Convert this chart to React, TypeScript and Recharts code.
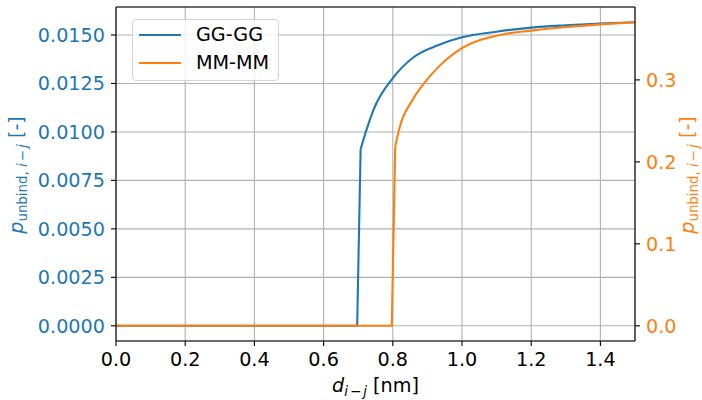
import { LineChart, Line, XAxis, YAxis, CartesianGrid, Legend, ReferenceLine } from 'recharts';

// GG-GG (left axis)
const ggX = [0, 0.697, 0.707, 0.722, 0.744, 0.8, 0.86, 0.932, 1.0, 1.1, 1.2, 1.3, 1.4, 1.5];
const ggP = [0, 0, 0.00911, 0.01, 0.01113, 0.01277, 0.01385, 0.01448, 0.01488, 0.01517, 0.01538, 0.0155, 0.01559, 0.01566];
// MM-MM (right axis)
const mmX = [0, 0.797, 0.807, 0.816, 0.86, 0.889, 0.932, 1.0, 1.11, 1.2, 1.3, 1.4, 1.5];
const mmP = [0, 0, 0.2185, 0.2357, 0.2777, 0.2951, 0.3159, 0.3387, 0.3549, 0.3601, 0.3645, 0.3678, 0.3704];

const xTicks = [0, 0.2, 0.4, 0.6, 0.8, 1.0, 1.2, 1.4];
const leftTicks = [0, 0.0025, 0.005, 0.0075, 0.01, 0.0125, 0.015];
const rightTicks = [0, 0.1, 0.2, 0.3];

const ggData = ggX.map((x, i) => ({ x, y: ggP[i] }));
const mmData = mmX.map((x, i) => ({ x, y: mmP[i] }));
// step part (straight) and the smooth part after the jump
const ggStep = ggData.slice(0, 3);
const ggCurve = ggData.slice(2);
const mmStep = mmData.slice(0, 3);
const mmCurve = mmData.slice(2);

const BLUE = '#1f77b4';
const ORANGE = '#ff7f0e';
const FONT = 'DejaVu Sans';
const FS = 19.2;
const SUB = 13.4;
const LEFT_DOMAIN: [number, number] = [-0.000783, 0.016443];
const RIGHT_DOMAIN: [number, number] = [-0.01852, 0.38894];

const PLabel = (props: any) => {
  const { viewBox, color, dx } = props;
  const cx = viewBox.x + dx;
  const cy = viewBox.y + viewBox.height / 2 + 1;
  return (
    <text x={cx} y={cy} fill={color} textAnchor="middle" fontFamily={FONT} fontSize={FS}
      transform={`rotate(-90, ${cx}, ${cy})`}>
      <tspan fontStyle="italic">p</tspan>
      <tspan fontSize={SUB} dy={4}>unbind, </tspan>
      <tspan fontSize={SUB} fontStyle="italic">i</tspan>
      <tspan fontSize={SUB} dx={2}>−</tspan>
      <tspan fontSize={SUB} dx={2} fontStyle="italic">j</tspan>
      <tspan dy={-4}> [-]</tspan>
    </text>
  );
};

const DLabel = (props: any) => {
  const { viewBox } = props;
  const cx = viewBox.x + viewBox.width / 2;
  const cy = viewBox.y + 51;
  return (
    <text x={cx} y={cy} fill="#000" textAnchor="middle" fontFamily={FONT} fontSize={FS}>
      <tspan fontStyle="italic">d</tspan>
      <tspan fontSize={SUB} dy={4} fontStyle="italic">i</tspan>
      <tspan fontSize={SUB} dx={2}>−</tspan>
      <tspan fontSize={SUB} dx={2} fontStyle="italic">j</tspan>
      <tspan dy={-4}> [nm]</tspan>
    </text>
  );
};

const LegendBox = (props: any) => {
  const items = (props.payload || []).filter((it: any) => it.type !== 'none');
  return (
    <div style={{
      width: 147, height: 62, boxSizing: 'border-box', border: '1px solid #d4d4d4', borderRadius: 4,
      background: 'rgba(255,255,255,0.8)', position: 'relative', fontFamily: FONT, fontSize: FS,
    }}>
      {items.map((it: any, i: number) => (
        <div key={i} style={{ position: 'absolute', left: 0, top: 14.5 + i * 28.5, width: '100%' }}>
          <div style={{ position: 'absolute', left: 6, top: -1, width: 42, height: 2.1, background: it.color }} />
          <div style={{ position: 'absolute', left: 63, top: -12, lineHeight: '24px', color: '#000' }}>{it.value}</div>
        </div>
      ))}
    </div>
  );
};

export default function App() {
  const tickStyle = { fontSize: FS, fontFamily: FONT };
  return (
    <div style={{ width: 702, height: 400 }}>
      <style>{'body{margin:0}'}</style>
      <LineChart width={702} height={400} margin={{ top: 7, right: 0, bottom: 0, left: 0 }} style={{ fontFamily: FONT }}>
        <CartesianGrid xAxisId="b" yAxisId="left" stroke="#b0b0b0" strokeWidth={1.1} />
        <XAxis xAxisId="b" dataKey="x" type="number" domain={[0, 1.5]} allowDataOverflow ticks={xTicks}
          tickFormatter={(v: number) => v.toFixed(1)} height={59} tickSize={5} tickMargin={6}
          tick={{ ...tickStyle, fill: '#000' }} stroke="#000" strokeWidth={1.1}
          label={<DLabel />} />
        <YAxis yAxisId="left" type="number" domain={LEFT_DOMAIN} allowDataOverflow ticks={leftTicks}
          tickFormatter={(v: number) => v.toFixed(4)} width={116} tickSize={5} tickMargin={6}
          tick={{ ...tickStyle, fill: BLUE }} stroke="#000" strokeWidth={1.1}
          label={<PLabel color={BLUE} dx={23} />} />
        <YAxis yAxisId="right" orientation="right" type="number" domain={RIGHT_DOMAIN} allowDataOverflow ticks={rightTicks}
          tickFormatter={(v: number) => v.toFixed(1)} width={67} tickSize={5} tickMargin={6}
          tick={{ ...tickStyle, fill: ORANGE }} stroke="#000" strokeWidth={1.1}
          label={<PLabel color={ORANGE} dx={59} />} />
        <ReferenceLine xAxisId="b" yAxisId="left" y={LEFT_DOMAIN[1]} stroke="#000" strokeWidth={1.1} ifOverflow="visible" />
        <Line xAxisId="b" yAxisId="left" data={ggStep} dataKey="y" name="GG-GG step" type="linear" legendType="none"
          stroke={BLUE} strokeWidth={2.1} strokeLinejoin="round" dot={false} isAnimationActive={false} />
        <Line xAxisId="b" yAxisId="left" data={ggCurve} dataKey="y" name="GG-GG" type="monotone"
          stroke={BLUE} strokeWidth={2.1} dot={false} isAnimationActive={false} />
        <Line xAxisId="b" yAxisId="right" data={mmStep} dataKey="y" name="MM-MM step" type="linear" legendType="none"
          stroke={ORANGE} strokeWidth={2.1} strokeLinejoin="round" dot={false} isAnimationActive={false} />
        <Line xAxisId="b" yAxisId="right" data={mmCurve} dataKey="y" name="MM-MM" type="monotone"
          stroke={ORANGE} strokeWidth={2.1} dot={false} isAnimationActive={false} />
        <Legend layout="horizontal" verticalAlign="middle" align="center" content={<LegendBox />}
          wrapperStyle={{ left: 132, top: 19, width: 147, height: 62 }} />
      </LineChart>
    </div>
  );
}
